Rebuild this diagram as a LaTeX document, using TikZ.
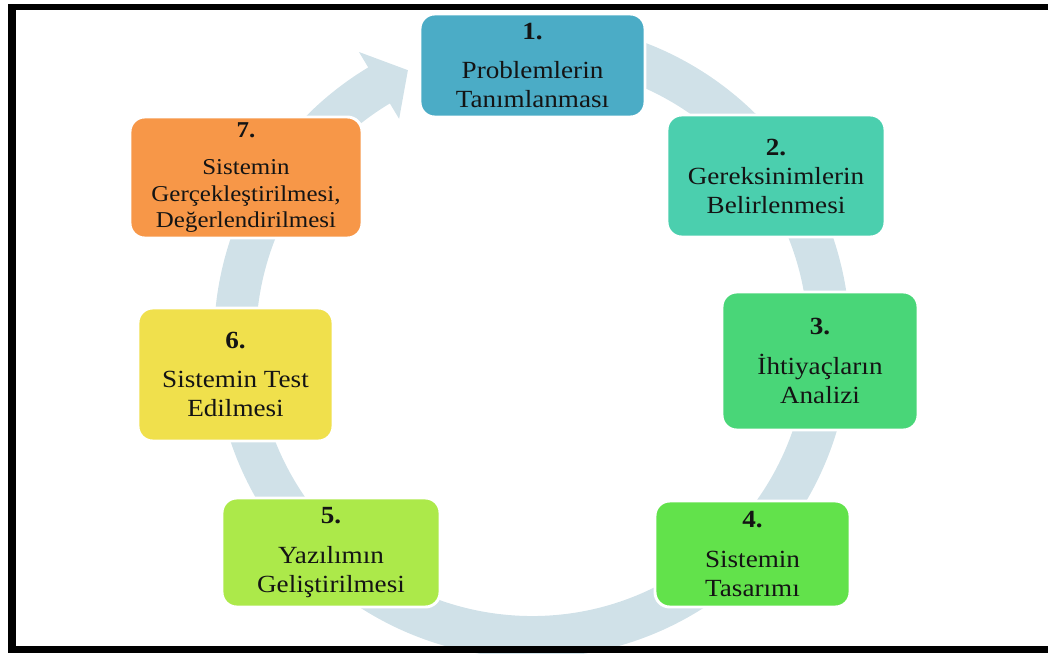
\documentclass[tikz,border=0pt]{standalone}
\usepackage{fontspec}
\setmainfont{Liberation Serif}[FakeStretch=1.1]
\begin{document}
\begin{tikzpicture}[x=0.75pt,y=-0.75pt]
  \definecolor{ringc}{RGB}{208,225,232}
  \definecolor{c1}{RGB}{75,172,198}
  \definecolor{c2}{RGB}{75,207,174}
  \definecolor{c3}{RGB}{73,214,120}
  \definecolor{c4}{RGB}{98,226,75}
  \definecolor{c5}{RGB}{172,233,74}
  \definecolor{c6}{RGB}{240,224,76}
  \definecolor{c7}{RGB}{247,151,72}
  \definecolor{txt}{RGB}{20,20,20}
  \tikzset{
    stepbox/.style={draw=white, line width=2.2pt, rounded corners=11pt,
      align=center, inner sep=0pt, text=txt,
      font=\fontsize{18.5}{21.75}\selectfont},
  }
  \useasboundingbox (0,0) rectangle (1048,653);
  % circular arrow behind the steps
  \begin{scope}[shift={(532,340)}, yscale=-1]
    \fill[ringc] (121:336) -- (114.7:297) -- (121:258) -- (121:276)
      arc[start angle=121, end angle=460, radius=276] -- (460:318)
      arc[start angle=460, end angle=121, radius=318] -- cycle;
  \end{scope}
  % steps
  \node[stepbox, fill=c1, minimum width=168.75pt, minimum height=77.25pt] (s1) at (532.5,65.5)
    {\textbf{1.}\\[8pt]Problemlerin\\Tanımlanması};
  \node[stepbox, fill=c2, minimum width=163.5pt, minimum height=91.5pt] (s2) at (776,176)
    {\textbf{2.}\\Gereksinimlerin\\Belirlenmesi};
  \node[stepbox, fill=c3, minimum width=147pt, minimum height=103.5pt] (s3) at (820,361)
    {\textbf{3.}\\[8pt]İhtiyaçların\\Analizi};
  \node[stepbox, fill=c4, minimum width=146.25pt, minimum height=79.5pt] (s4) at (752.5,554)
    {\textbf{4.}\\[8pt]Sistemin\\Tasarımı};
  \node[stepbox, fill=c5, minimum width=163.5pt, minimum height=81.75pt] (s5) at (331,552.5)
    {\textbf{5.}\\[8pt]Yazılımın\\Geliştirilmesi};
  \node[stepbox, fill=c6, minimum width=146.25pt, minimum height=99.75pt] (s6) at (235.5,374.5)
    {\textbf{6.}\\[8pt]Sistemin Test\\Edilmesi};
  \node[stepbox, fill=c7, minimum width=174pt, minimum height=90.75pt,
    font=\fontsize{17}{20}\selectfont] (s7) at (246,177.5)
    {\textbf{7.}\\[8pt]Sistemin\\Gerçekleştirilmesi,\\Değerlendirilmesi};
  % frame
  \fill[black] (8,4) rectangle (16,653);
  \fill[black] (8,4) rectangle (1048,10);
  \fill[black] (8,646) rectangle (1048,653);
\end{tikzpicture}
\end{document}
